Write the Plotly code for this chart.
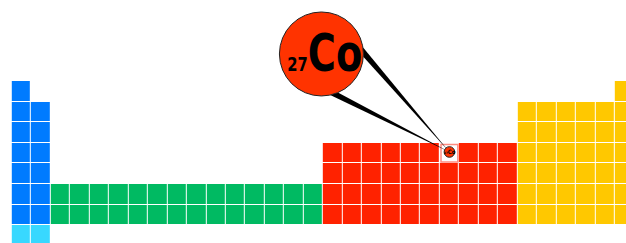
import math
import plotly.graph_objects as go

# ---------------- data ----------------
# periodic-table layout (32-column form), one string per period
# s = s-block, f = f-block, d = d-block, p = p-block, e = period-8 s-block, . = empty
period_rows = [
    "s..............................p",
    "ss........................pppppp",
    "ss........................pppppp",
    "ss..............ddddddddddpppppp",
    "ss..............ddddddddddpppppp",
    "ssffffffffffffffddddddddddpppppp",
    "ssffffffffffffffddddddddddpppppp",
    "ee..............................",
]
block_codes = ["s", "f", "d", "p", "e", "h"]
block_colors = ["#007BFF", "#00BA62", "#FF2200", "#FFC800", "#38D8FF", "#FFFFFF"]

# highlighted element
hl_symbol = "Co"
hl_number = 27
hl_period = 4
hl_column = 23

# ---------------- geometry helpers ----------------
W, H = 626, 243
col_pitch, row_pitch = 19.45, 20.62
x_rng = [1 - 21.525 / col_pitch, 1 + (W - 21.525) / col_pitch]
y_rng = [1 + (H - 91.31) / row_pitch, 1 - 91.31 / row_pitch]  # reversed


def px2x(p):
    return x_rng[0] + p / W * (x_rng[1] - x_rng[0])


def px2y(p):
    return y_rng[1] + p / H * (y_rng[0] - y_rng[1])


def x2px(x):
    return (x - x_rng[0]) / (x_rng[1] - x_rng[0]) * W


def y2px(y):
    return (y - y_rng[1]) / (y_rng[0] - y_rng[1]) * H


# ---------------- grid ----------------
z = []
for r, row in enumerate(period_rows, start=1):
    zr = []
    for c, ch in enumerate(row, start=1):
        if r == hl_period and c == hl_column:
            zr.append(block_codes.index("h"))
        elif ch in block_codes:
            zr.append(block_codes.index(ch))
        else:
            zr.append(None)
    z.append(zr)

n = len(block_colors)
cs = []
for i, col in enumerate(block_colors):
    cs.append([i / n, col])
    cs.append([(i + 1) / n, col])

fig = go.Figure()
fig.add_trace(go.Heatmap(
    z=z, x=list(range(1, 33)), y=list(range(1, len(period_rows) + 1)),
    colorscale=cs, zmin=-0.5, zmax=n - 0.5, showscale=False,
    xgap=1, ygap=1, hoverinfo="skip",
))

# ---------------- callout ----------------
cx2, cy2 = x2px(hl_column), y2px(hl_period) - 1.2   # small circle centre (px)
r2 = 5.3
cx1, cy1 = cx2 - 128, cy2 - 98                       # big circle centre (px)
r1 = 42
a0 = math.atan2(cy2 - cy1, cx2 - cx1)

shapes = []
# highlight cell border
half_w, half_h = col_pitch / 2 - 1.3, row_pitch / 2 - 1.6
shapes.append(dict(type="rect", xref="x", yref="y",
                   x0=px2x(cx2 - half_w), x1=px2x(cx2 + half_w),
                   y0=px2y(y2px(hl_period) - half_h), y1=px2y(y2px(hl_period) + half_h),
                   line=dict(color="#FF8C80", width=1.5), fillcolor="rgba(0,0,0,0)"))

# wedges
for da, beta in [(-40, 6.5), (35, 5.5)]:
    a = a0 + math.radians(da)
    b = math.radians(beta)
    p1 = (cx1 + r1 * math.cos(a - b), cy1 + r1 * math.sin(a - b))
    p2 = (cx1 + r1 * math.cos(a + b), cy1 + r1 * math.sin(a + b))
    path = "M {} {} L {} {} L {} {} Z".format(
        px2x(p1[0]), px2y(p1[1]), px2x(p2[0]), px2y(p2[1]), px2x(cx2), px2y(cy2))
    shapes.append(dict(type="path", xref="x", yref="y", path=path,
                       fillcolor="black", line=dict(width=0)))

# big circle
shapes.append(dict(type="circle", xref="x", yref="y",
                   x0=px2x(cx1 - r1), x1=px2x(cx1 + r1),
                   y0=px2y(cy1 - r1), y1=px2y(cy1 + r1),
                   fillcolor="#FF3300", line=dict(color="#222222", width=1)))
# small circle
shapes.append(dict(type="circle", xref="x", yref="y",
                   x0=px2x(cx2 - r2), x1=px2x(cx2 + r2),
                   y0=px2y(cy2 - r2), y1=px2y(cy2 + r2),
                   fillcolor="#FF3300", line=dict(color="#222222", width=1)))

font_fam = "DejaVu Sans Condensed, DejaVu Sans, sans-serif"
annotations = [
    dict(x=px2x(cx1 + 4), y=px2y(cy1 - 1), xref="x", yref="y", showarrow=False,
         xanchor="center", yanchor="middle",
         text="<b><span style='font-size:20px'>{}</span>{}</b>".format(hl_number, hl_symbol),
         font=dict(family=font_fam, size=52, color="black")),
    dict(x=px2x(cx2 + 0.5), y=px2y(cy2), xref="x", yref="y", showarrow=False,
         xanchor="center", yanchor="middle",
         text="<b><span style='font-size:3px'>{}</span>{}</b>".format(hl_number, hl_symbol),
         font=dict(family=font_fam, size=6, color="black")),
]

fig.update_layout(
    width=W, height=H, margin=dict(l=0, r=0, t=0, b=0),
    paper_bgcolor="white", plot_bgcolor="white",
    xaxis=dict(range=x_rng, visible=False, fixedrange=True),
    yaxis=dict(range=y_rng, visible=False, fixedrange=True),
    shapes=shapes, annotations=annotations, showlegend=False,
)

post_js = """
document.body.style.margin = '0';
document.body.style.overflow = 'hidden';
var gd = document.getElementById('{plot_id}');
var texts = gd.querySelectorAll('text.annotation-text');
if (texts.length) {
  var t = texts[0];
  var bb = t.getBBox();
  var cx = bb.x + bb.width / 2;
  t.setAttribute('transform', 'translate(' + cx + ',0) scale(0.82,1) translate(' + (-cx) + ',0)');
}
"""
fig.write_html("out.html", config={"displayModeBar": False}, post_script=post_js)
